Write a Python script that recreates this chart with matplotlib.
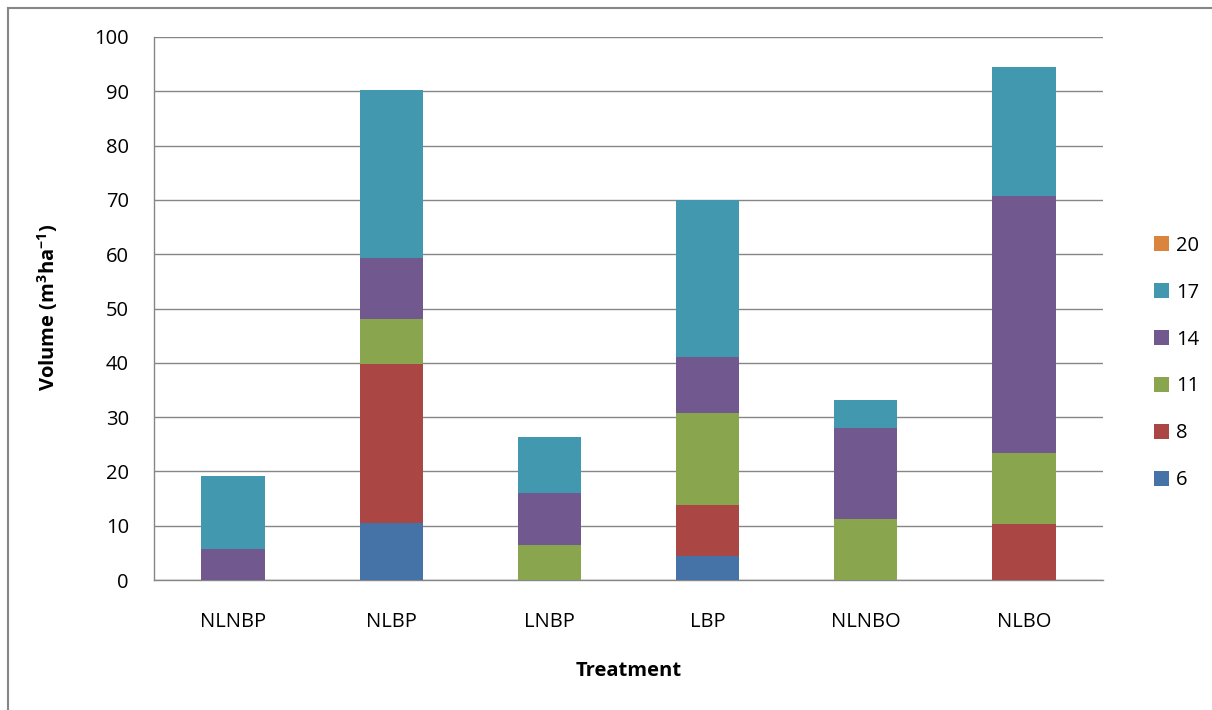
import matplotlib.pyplot as plt
from matplotlib.lines import Line2D
from matplotlib.patches import Patch
import numpy as np

# --- Data ---
treatments = ["NLNBP", "NLBP", "LNBP", "LBP", "NLNBO", "NLBO"]
series_names = ["6", "8", "11", "14", "17", "20"]
vol_6 = [0, 10.5, 0, 4.4, 0, 0]
vol_8 = [0, 29.3, 0, 9.4, 0, 10.3]
vol_11 = [0, 8.3, 6.4, 17.0, 11.2, 13.1]
vol_14 = [5.8, 11.2, 9.6, 10.3, 16.8, 47.3]
vol_17 = [13.4, 31.0, 10.3, 28.9, 5.1, 23.8]
vol_20 = [0, 0, 0, 0, 0, 0]

colors = ["#4572A7", "#AA4643", "#89A54E", "#71588F", "#4198AF", "#DB843D"]

plt.rcParams['font.family'] = ['Open Sans', 'DejaVu Sans']
plt.rcParams['mathtext.default'] = 'regular'
FS = 14.5

fig = plt.figure(figsize=(12.12, 7.1), dpi=100)
W, H = 1212, 710
ax = fig.add_axes([154 / W, 1 - 580 / H, (1103 - 154) / W, (580 - 37) / H])

x = np.arange(len(treatments))
bottom = np.zeros(len(treatments))
for vals, name, c in zip([vol_6, vol_8, vol_11, vol_14, vol_17, vol_20], series_names, colors):
    vals = np.array(vals, dtype=float)
    ax.bar(x, vals, width=0.4, bottom=bottom, color=c, zorder=3, label=name)
    bottom += vals

ax.set_xlim(-0.5, len(treatments) - 0.5)
ax.set_ylim(0, 100)
ax.set_yticks(range(0, 101, 10))
ax.set_xticks(x)
ax.set_xticklabels(treatments)
ax.grid(axis='y', color='#868686', linewidth=1, zorder=0)
ax.tick_params(axis='both', length=0, labelsize=FS, colors='#000000')
ax.tick_params(axis='y', pad=18)
ax.tick_params(axis='x', pad=23)
for s in ['top', 'right']:
    ax.spines[s].set_visible(False)
for s in ['left', 'bottom']:
    ax.spines[s].set_color('#868686')
    ax.spines[s].set_linewidth(1)

fig.text(48 / W, 1 - 307 / H, "Volume (m$^{3}$ha$^{-1}$)", fontsize=FS, fontweight='bold',
         rotation=90, ha='center', va='center')
fig.text((154 + 1103) / 2 / W, 1 - 671 / H, "Treatment", fontsize=FS, fontweight='bold',
         ha='center', va='center')

# legend (reverse order like Excel)
handles = [Patch(facecolor=c, label=n) for n, c in zip(series_names, colors)][::-1]
fig.legend(handles=handles, loc='center left', bbox_to_anchor=(1136 / W, 1 - 363 / H),
           frameon=False, fontsize=FS, handlelength=0.72, handleheight=0.72,
           labelspacing=1.34, handletextpad=0.35)

# partial chart border (top and left)
fig.add_artist(Line2D([8 / W, 1], [1 - 8 / H, 1 - 8 / H], color='#868686', lw=1.5))
fig.add_artist(Line2D([8 / W, 8 / W], [0, 1 - 8 / H], color='#868686', lw=1.5))

fig.savefig("out.png", dpi=100)
